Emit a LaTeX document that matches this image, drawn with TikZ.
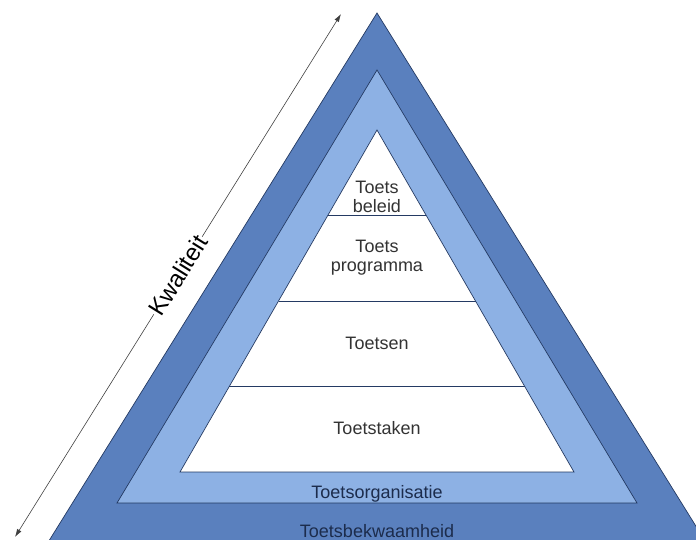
\documentclass[tikz,border=0pt]{standalone}
\usepackage{fontspec}
\setmainfont{Liberation Sans}
\usetikzlibrary{calc,arrows.meta}
\definecolor{darkband}{HTML}{5A80BE}
\definecolor{lightband}{HTML}{8DB1E4}
\definecolor{bandline}{HTML}{243A63}
\definecolor{layergray}{HTML}{333333}
\definecolor{bandtext}{HTML}{1C2C4C}

\begin{document}
\begin{tikzpicture}[x=1pt, y=1pt,
    layertext/.style={font=\fontsize{18}{19}\selectfont, text=layergray, align=center},
    bandtext/.style={font=\fontsize{18}{19}\selectfont, text=bandtext},
    band/.style={draw=bandline, line width=0.7pt, line join=miter}]
        \useasboundingbox (0, 0) rectangle (696, 540);

        \coordinate (T1) at (377, 527);
        \coordinate (T1L) at (47, -4);
        \coordinate (T1R) at (707, -4);

        \coordinate (T2) at (377, 470);
        \coordinate (T2L) at (117, 37);
        \coordinate (T2R) at (637, 37);

        \coordinate (T3) at (377, 410);
        \coordinate (T3L) at (180, 68);
        \coordinate (T3R) at (574, 68);

        \coordinate (K1) at (15, 3);
        \coordinate (K2) at (341, 526);

        \fill [darkband] (T1) -- (T1L) -- (T1R) -- cycle;
        \draw [band] (T1L) -- (T1) -- (T1R);
        \filldraw [band, fill=lightband] (T2) -- (T2L) -- (T2R) -- cycle;
        \filldraw [band, fill=white] (T3) -- (T3L) -- (T3R) -- cycle;

        \draw [bandline] ($(T3)!0.25!(T3L)$) -- ($(T3)!0.25!(T3R)$);
        \draw [bandline] ($(T3)!0.5!(T3L)$) -- ($(T3)!0.5!(T3R)$);
        \draw [bandline] ($(T3)!0.75!(T3L)$) -- ($(T3)!0.75!(T3R)$);

        \node [layertext] (beleid) at (377, 343.5) {Toets\\beleid};
        \node [layertext] (programma) at (377, 282.5) {Toets\\programma};
        \node [layertext] (toetsen) at (377, 197) {Toetsen};
        \node [layertext] (toetstaken) at (377, 112) {Toetstaken};
        \node [bandtext] (organisatie) at (377, 46) {Toetsorganisatie};
        \node [bandtext] (bekwaamheid) at (377, 9) {Toetsbekwaamheid};

        \draw [{Latex[length=8pt,width=5pt]}-{Latex[length=8pt,width=5pt]}, black!75, line width=0.6pt] (K1) -- node [sloped, fill=white, text=black, inner sep=1pt, font=\fontsize{24}{24}\selectfont] (kwaliteit) {Kwaliteit} (K2);
      \end{tikzpicture}
\end{document}
